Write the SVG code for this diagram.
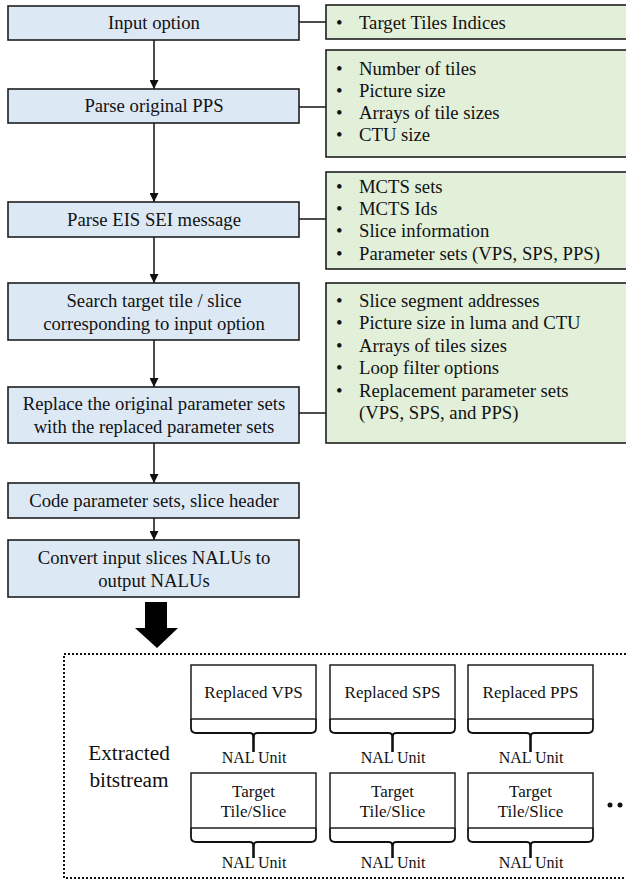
<svg xmlns="http://www.w3.org/2000/svg" width="626" height="882" viewBox="0 0 626 882" font-family="'Liberation Serif', 'Times New Roman', Times, 'DejaVu Serif', serif">
<defs>
<style>
text{font-family:'Liberation Serif','Times New Roman',Times,'DejaVu Serif',serif;fill:#111;}
.step rect{fill:#dde8f5;stroke:#1e1e1e;stroke-width:1.6;}
.step text{font-size:18.7px;text-anchor:middle;}
.info rect{fill:#e2efd9;stroke:#1e1e1e;stroke-width:1.6;}
.info text{font-size:18.7px;}
.conn{stroke:#111;stroke-width:1.5;fill:none;}
.arr{stroke:#111;stroke-width:1.5;fill:none;marker-end:url(#ah);}
.nal rect{fill:#fff;stroke:#1e1e1e;stroke-width:1.5;}
.nal text{font-size:17px;text-anchor:middle;}
.nal .lbl{font-size:16px;}
.brace{fill:none;stroke:#111;stroke-width:1.8;}
.stem{stroke:#111;stroke-width:2.6;}
</style>
<marker id="ah" markerWidth="9" markerHeight="9" refX="9" refY="4.5" orient="auto" markerUnits="userSpaceOnUse">
<path d="M0,0 L9,4.5 L0,9 Z" fill="#111"/>
</marker>
</defs>
<rect width="626" height="882" fill="#fff"/>

<g id="connectors">
<line class="arr" x1="154" y1="40" x2="154" y2="89"/>
<line class="arr" x1="154" y1="123" x2="154" y2="202"/>
<line class="arr" x1="154" y1="237" x2="154" y2="283"/>
<line class="arr" x1="154" y1="340" x2="154" y2="387"/>
<line class="arr" x1="154" y1="443" x2="154" y2="483"/>
<line class="arr" x1="154" y1="518" x2="154" y2="540"/>
<line class="conn" x1="299" y1="22" x2="326" y2="22"/>
<line class="conn" x1="299" y1="107" x2="326" y2="107"/>
<line class="conn" x1="299" y1="219" x2="326" y2="219"/>
<line class="conn" x1="299" y1="413" x2="326" y2="413"/>
<path id="bigarrow" d="M145,602 H167 V628 H178 L157,648 L135,628 H145 Z" fill="#000"/>
</g>

<g id="step1" class="step"><rect x="8" y="6" width="291" height="34"/><text x="154" y="29">Input option</text></g>
<g id="step2" class="step"><rect x="8" y="89" width="291" height="34"/><text x="154" y="112">Parse original PPS</text></g>
<g id="step3" class="step"><rect x="8" y="202" width="291" height="35"/><text x="154" y="226">Parse EIS SEI message</text></g>
<g id="step4" class="step"><rect x="8" y="283" width="291" height="57"/><text x="154" y="307">Search target tile / slice</text><text x="154" y="330">corresponding to input option</text></g>
<g id="step5" class="step"><rect x="8" y="387" width="291" height="56"/><text x="154" y="410">Replace the original parameter sets</text><text x="154" y="433">with the replaced parameter sets</text></g>
<g id="step6" class="step"><rect x="8" y="483" width="291" height="35"/><text x="154" y="507">Code parameter sets, slice header</text></g>
<g id="step7" class="step"><rect x="8" y="540" width="291" height="57"/><text x="154" y="564">Convert input slices NALUs to</text><text x="154" y="587">output NALUs</text></g>

<g id="info1" class="info"><rect x="326" y="5" width="310" height="34"/>
<text x="336" y="29">•</text><text x="359" y="29">Target Tiles Indices</text></g>
<g id="info2" class="info"><rect x="326" y="50" width="310" height="107"/>
<text x="336" y="75">•</text><text x="359" y="75">Number of tiles</text>
<text x="336" y="97">•</text><text x="359" y="97">Picture size</text>
<text x="336" y="119">•</text><text x="359" y="119">Arrays of tile sizes</text>
<text x="336" y="141">•</text><text x="359" y="141">CTU size</text></g>
<g id="info3" class="info"><rect x="326" y="172" width="310" height="97"/>
<text x="336" y="193">•</text><text x="359" y="193">MCTS sets</text>
<text x="336" y="215">•</text><text x="359" y="215">MCTS Ids</text>
<text x="336" y="237">•</text><text x="359" y="237">Slice information</text>
<text x="336" y="260">•</text><text x="359" y="260">Parameter sets (VPS, SPS, PPS)</text></g>
<g id="info4" class="info"><rect x="326" y="283" width="310" height="160"/>
<text x="336" y="307">•</text><text x="359" y="307">Slice segment addresses</text>
<text x="336" y="329">•</text><text x="359" y="329">Picture size in luma and CTU</text>
<text x="336" y="352">•</text><text x="359" y="352">Arrays of tiles sizes</text>
<text x="336" y="374">•</text><text x="359" y="374">Loop filter options</text>
<text x="336" y="397">•</text><text x="359" y="397">Replacement parameter sets</text>
<text x="359" y="419">(VPS, SPS, and PPS)</text></g>

<g id="bitstream">
<rect x="64" y="654" width="600" height="224" fill="none" stroke="#111" stroke-width="2" stroke-dasharray="2 2"/>
<text x="129" y="760" font-size="21.3" text-anchor="middle">Extracted</text>
<text x="129" y="787" font-size="21.3" text-anchor="middle">bitstream</text>
<circle cx="610" cy="805" r="2.5" fill="#111"/>
<circle cx="620" cy="805" r="2.5" fill="#111"/>
</g>

<g id="nal-vps" class="nal"><rect x="191" y="665" width="125" height="54"/><text x="253.5" y="698">Replaced VPS</text>
<path class="brace" d="M191,719 V728 Q191,733 196,733 H249.5 Q253.5,733 253.5,737 Q253.5,733 257.5,733 H311 Q316,733 316,728 V719"/>
<line class="stem" x1="253.5" y1="734" x2="253.5" y2="752"/>
<text class="lbl" x="254" y="763">NAL Unit</text></g>
<g id="nal-sps" class="nal"><rect x="330" y="665" width="125" height="54"/><text x="392.5" y="698">Replaced SPS</text>
<path class="brace" d="M330,719 V728 Q330,733 335,733 H388.5 Q392.5,733 392.5,737 Q392.5,733 396.5,733 H450 Q455,733 455,728 V719"/>
<line class="stem" x1="392.5" y1="734" x2="392.5" y2="752"/>
<text class="lbl" x="393" y="763">NAL Unit</text></g>
<g id="nal-pps" class="nal"><rect x="468" y="665" width="125" height="54"/><text x="530.5" y="698">Replaced PPS</text>
<path class="brace" d="M468,719 V728 Q468,733 473,733 H526.5 Q530.5,733 530.5,737 Q530.5,733 534.5,733 H588 Q593,733 593,728 V719"/>
<line class="stem" x1="530.5" y1="734" x2="530.5" y2="752"/>
<text class="lbl" x="531" y="763">NAL Unit</text></g>

<g id="nal-tile1" class="nal"><rect x="191" y="773" width="125" height="55"/><text x="253.5" y="797">Target</text><text x="253.5" y="817">Tile/Slice</text>
<path class="brace" d="M191,828 V837 Q191,842 196,842 H249.5 Q253.5,842 253.5,846 Q253.5,842 257.5,842 H311 Q316,842 316,837 V828"/>
<line class="stem" x1="253.5" y1="843" x2="253.5" y2="858"/>
<text class="lbl" x="254" y="868">NAL Unit</text></g>
<g id="nal-tile2" class="nal"><rect x="330" y="773" width="125" height="55"/><text x="392.5" y="797">Target</text><text x="392.5" y="817">Tile/Slice</text>
<path class="brace" d="M330,828 V837 Q330,842 335,842 H388.5 Q392.5,842 392.5,846 Q392.5,842 396.5,842 H450 Q455,842 455,837 V828"/>
<line class="stem" x1="392.5" y1="843" x2="392.5" y2="858"/>
<text class="lbl" x="393" y="868">NAL Unit</text></g>
<g id="nal-tile3" class="nal"><rect x="468" y="773" width="125" height="55"/><text x="530.5" y="797">Target</text><text x="530.5" y="817">Tile/Slice</text>
<path class="brace" d="M468,828 V837 Q468,842 473,842 H526.5 Q530.5,842 530.5,846 Q530.5,842 534.5,842 H588 Q593,842 593,837 V828"/>
<line class="stem" x1="530.5" y1="843" x2="530.5" y2="858"/>
<text class="lbl" x="531" y="868">NAL Unit</text></g>
</svg>
